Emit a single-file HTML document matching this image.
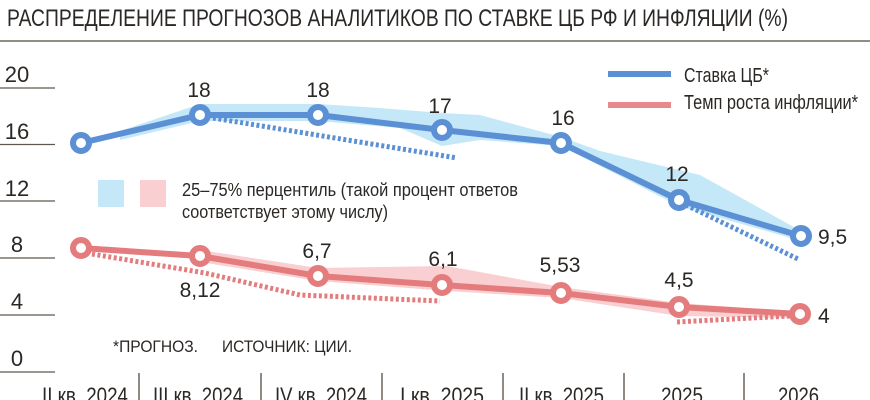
<!DOCTYPE html>
<html><head><meta charset="utf-8"><style>
html,body{margin:0;padding:0;background:#fff;}
svg{display:block;}
text{font-family:"Liberation Sans Narrow","Liberation Sans",sans-serif;fill:#2b2724;}
</style></head><body>
<svg width="870" height="400" viewBox="0 0 870 400" xmlns="http://www.w3.org/2000/svg">
<text x="7" y="26" font-size="24" textLength="781" lengthAdjust="spacingAndGlyphs">РАСПРЕДЕЛЕНИЕ ПРОГНОЗОВ АНАЛИТИКОВ ПО СТАВКЕ ЦБ РФ И ИНФЛЯЦИИ (%)</text>
<line x1="0" y1="41" x2="870" y2="41" stroke="#6e675e" stroke-width="1.6"/>
<g stroke="#5f574e" stroke-width="1.3">
<line x1="0" y1="88" x2="55" y2="88"/><line x1="0" y1="144.5" x2="55" y2="144.5"/><line x1="0" y1="201" x2="55" y2="201"/><line x1="0" y1="258" x2="55" y2="258"/><line x1="0" y1="315" x2="55" y2="315"/><line x1="0" y1="372" x2="55" y2="372"/>
</g>
<g font-size="22" text-anchor="middle">
<text x="17" y="82">20</text><text x="17" y="139">16</text><text x="17" y="196">12</text><text x="17" y="252">8</text><text x="17" y="309">4</text><text x="17" y="366">0</text>
</g>
<!-- bands -->
<polygon fill="#c5e8f9" points="120,131 200,104 318,104 380,108 442,113 480,115 561,137 600,151 700,175 801,231 801,241 679,206 561,146 480,140 442,146 400,128 318,121 200,121 120,140"/>
<polygon fill="#f9cfd2" points="200,250 318,268 447,266 561,287 679,303 800,312 800,318 679,316 561,298 447,291 318,281 200,262"/>
<!-- dotted -->
<g fill="none" stroke-width="5" stroke-dasharray="3 2.5">
<polyline stroke="#5b90d4" points="213,118 457,158"/>
<polyline stroke="#5b90d4" points="686,205 798,259"/>
<polyline stroke="#e47c7e" points="92,254 205,273 300,295 440,301"/>
<polyline stroke="#e47c7e" points="677,322 790,316"/>
</g>
<!-- lines -->
<polyline fill="none" stroke="#5b90d4" stroke-width="6" stroke-linejoin="round" points="81,143 200,115 318,115 442,130 561,143 679,200 801,236"/>
<polyline fill="none" stroke="#e47c7e" stroke-width="6" stroke-linejoin="round" points="81,248 200,256 318,276 442,285 561,293 679,307 800,314"/>
<g fill="#fff" stroke="#5b90d4" stroke-width="6">
<circle cx="81" cy="143" r="8"/><circle cx="200" cy="115" r="8"/><circle cx="318" cy="115" r="8"/><circle cx="442" cy="130" r="8"/><circle cx="561" cy="143" r="8"/><circle cx="679" cy="200" r="8"/><circle cx="801" cy="236" r="8"/>
</g>
<g fill="#fff" stroke="#e47c7e" stroke-width="6">
<circle cx="81" cy="248" r="8"/><circle cx="200" cy="256" r="8"/><circle cx="318" cy="276" r="8"/><circle cx="442" cy="285" r="8"/><circle cx="561" cy="293" r="8"/><circle cx="679" cy="307" r="8"/><circle cx="800" cy="314" r="8"/>
</g>
<!-- value labels -->
<g font-size="21" text-anchor="middle">
<text x="199" y="97">18</text><text x="318" y="97">18</text><text x="440" y="113">17</text><text x="563" y="125">16</text><text x="677" y="181">12</text>
<text x="317" y="258">6,7</text><text x="443" y="266">6,1</text><text x="560" y="272">5,53</text><text x="679" y="287">4,5</text><text x="200" y="297">8,12</text>
</g>
<g font-size="21">
<text x="818" y="244">9,5</text><text x="818" y="323">4</text>
</g>
<!-- legend -->
<line x1="608" y1="74" x2="671" y2="74" stroke="#5b90d4" stroke-width="6"/>
<line x1="608" y1="105" x2="671" y2="105" stroke="#e8898b" stroke-width="6"/>
<text x="684" y="82" font-size="20" textLength="85" lengthAdjust="spacingAndGlyphs">Ставка ЦБ*</text>
<text x="684" y="109" font-size="20" textLength="174" lengthAdjust="spacingAndGlyphs">Темп роста инфляции*</text>
<rect x="98" y="180" width="26" height="27" fill="#c5e8f9"/>
<rect x="140" y="180" width="26" height="27" fill="#f9cfd2"/>
<text x="182" y="196" font-size="18" textLength="336" lengthAdjust="spacingAndGlyphs">25–75% перцентиль (такой процент ответов</text>
<text x="182" y="218" font-size="18" textLength="206" lengthAdjust="spacingAndGlyphs">соответствует этому числу)</text>
<text x="113" y="352" font-size="17" textLength="85" lengthAdjust="spacingAndGlyphs">*ПРОГНОЗ.</text>
<text x="222" y="352" font-size="17" textLength="130" lengthAdjust="spacingAndGlyphs">ИСТОЧНИК: ЦИИ.</text>
<!-- x axis -->
<g stroke="#6b6358" stroke-width="1.5">
<line x1="139" y1="373" x2="139" y2="400"/><line x1="261" y1="373" x2="261" y2="400"/><line x1="382" y1="373" x2="382" y2="400"/><line x1="503" y1="373" x2="503" y2="400"/><line x1="624" y1="373" x2="624" y2="400"/><line x1="744" y1="373" x2="744" y2="400"/>
</g>
<g font-size="22">
<text x="42" y="403" textLength="86" lengthAdjust="spacingAndGlyphs">II кв. 2024</text>
<text x="153" y="403" textLength="90" lengthAdjust="spacingAndGlyphs">III кв. 2024</text>
<text x="275" y="403" textLength="92" lengthAdjust="spacingAndGlyphs">IV кв. 2024</text>
<text x="400" y="403" textLength="84" lengthAdjust="spacingAndGlyphs">I кв. 2025</text>
<text x="519" y="403" textLength="85" lengthAdjust="spacingAndGlyphs">II кв. 2025</text>
<text x="661" y="403" textLength="42" lengthAdjust="spacingAndGlyphs">2025</text>
<text x="778" y="403" textLength="41" lengthAdjust="spacingAndGlyphs">2026</text>
</g>
</svg>
</body></html>
